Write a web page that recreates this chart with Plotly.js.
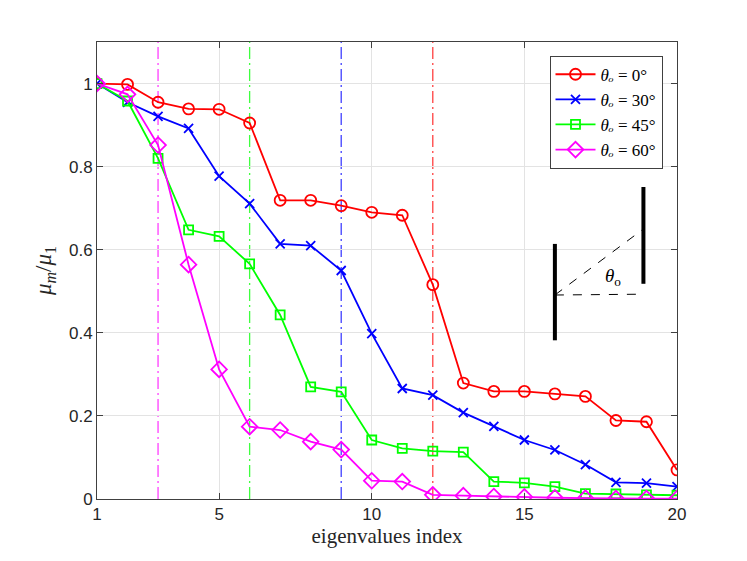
<!DOCTYPE html>
<html>
<head>
<meta charset="utf-8">
<script src="https://cdn.plot.ly/plotly-3.0.1.min.js"></script>
<style>
  html, body { margin: 0; padding: 0; background: #fff; }
  #chart { width: 747px; height: 561px; }
</style>
</head>
<body>
<div id="chart"></div>
<script>
(function () {
  "use strict";

  // eigenvalue index 1..20
  const idx = [1, 2, 3, 4, 5, 6, 7, 8, 9, 10, 11, 12, 13, 14, 15, 16, 17, 18, 19, 20];

  // normalised eigenvalues mu_m / mu_1
  const theta0  = [1.000, 0.998, 0.955, 0.939, 0.938, 0.905, 0.719, 0.719, 0.706, 0.690,
                   0.683, 0.516, 0.279, 0.259, 0.259, 0.253, 0.247, 0.189, 0.186, 0.070];
  const theta30 = [1.000, 0.955, 0.921, 0.892, 0.777, 0.711, 0.614, 0.610, 0.550, 0.398,
                   0.266, 0.250, 0.208, 0.175, 0.142, 0.118, 0.083, 0.040, 0.038, 0.030];
  const theta45 = [1.000, 0.958, 0.820, 0.648, 0.632, 0.566, 0.443, 0.270, 0.258, 0.142,
                   0.122, 0.115, 0.113, 0.042, 0.039, 0.030, 0.013, 0.012, 0.010, 0.009];
  const theta60 = [1.000, 0.974, 0.852, 0.564, 0.312, 0.174, 0.166, 0.138, 0.119, 0.044,
                   0.042, 0.010, 0.008, 0.006, 0.005, 0.003, 0.002, 0.001, 0.001, 0.001];

  // cut-off index for each angle (dash-dot markers)
  const cutoffs = [12, 9, 6, 3];
  const labels = ["0°", "30°", "45°", "60°"];

  const xTicks = [1, 5, 10, 15, 20];
  const yTicks = [0, 0.2, 0.4, 0.6, 0.8, 1];

  const COL = ["#ff0000", "#0000ff", "#00ff00", "#ff00ff"];
  const SYM = ["circle-open", "x-thin-open", "square-open", "diamond-open"];
  const SIZE = [11, 9, 9, 12];
  const series = [theta0, theta30, theta45, theta60];

  const SERIF = "'Liberation Serif', 'DejaVu Serif', serif";
  const SANS = "'Liberation Sans', Arial, sans-serif";

  const traces = series.map((ys, i) => ({
    type: "scatter", mode: "lines+markers",
    x: idx, y: ys,
    name: "<i>θₒ</i> = " + labels[i],
    line: { color: COL[i], width: 1.8 },
    marker: { symbol: SYM[i], size: SIZE[i], color: COL[i], line: { color: COL[i], width: 1.8 } },
  }));

  // vertical dash-dot lines at each cut-off
  const cutShapes = cutoffs.map((c, i) => ({
    type: "line", layer: "below",
    xref: "x", yref: "paper", x0: c, x1: c, y0: 0, y1: 1,
    line: { color: COL[i], width: 1.3, dash: "12px,4px,2px,4px" }, opacity: 0.75,
  }));

  // little geometry sketch (two plates and the angle)
  const sketch = [
    { type: "line", xref: "x", yref: "y", x0: 16, x1: 16, y0: 0.382, y1: 0.614,
      line: { color: "#000", width: 4 } },
    { type: "line", xref: "x", yref: "y", x0: 18.9, x1: 18.9, y0: 0.518, y1: 0.751,
      line: { color: "#000", width: 4 } },
    { type: "line", xref: "x", yref: "y", x0: 16, x1: 18.9, y0: 0.491, y1: 0.650,
      line: { color: "#000", width: 1, dash: "dash" } },
    { type: "line", xref: "x", yref: "y", x0: 16, x1: 18.9, y0: 0.491, y1: 0.493,
      line: { color: "#000", width: 1, dash: "dash" } },
  ];

  const axisBase = {
    showline: true, linecolor: "#404040", linewidth: 1, mirror: "ticks",
    ticks: "inside", ticklen: 6, tickcolor: "#404040",
    showgrid: true, gridcolor: "#e3e3e3", gridwidth: 1,
    zeroline: false,
    tickfont: { family: SANS, size: 17, color: "#262626" },
  };

  const layout = {
    width: 747, height: 561,
    paper_bgcolor: "#fff", plot_bgcolor: "#fff",
    margin: { l: 97, r: 70, t: 42, b: 62 },
    showlegend: true,
    legend: {
      x: 0.975, y: 0.97, xanchor: "right", yanchor: "top",
      bgcolor: "#fff", bordercolor: "#404040", borderwidth: 1,
      font: { family: SERIF, size: 17, color: "#000" },
      itemwidth: 40, tracegroupgap: 0,
    },
    xaxis: {
      ...axisBase,
      range: [1, 20], tickvals: xTicks, ticktext: xTicks.map(String),
      title: { text: "eigenvalues index", font: { family: SERIF, size: 21, color: "#262626" }, standoff: 4 },
    },
    yaxis: {
      ...axisBase,
      range: [0, 1.1], tickvals: yTicks, ticktext: yTicks.map(String),
      title: { text: "<i>μ<sub>m</sub></i>/<i>μ</i><sub>1</sub>", font: { family: SERIF, size: 23, color: "#262626" }, standoff: 10 },
    },
    shapes: cutShapes.concat(sketch),
    annotations: [{
      xref: "x", yref: "y", x: 17.9, y: 0.535, showarrow: false,
      text: "<i>θ</i><sub>o</sub>",
      font: { family: SERIF, size: 19, color: "#000" },
    }],
  };

  Plotly.newPlot("chart", traces, layout, { staticPlot: true, displayModeBar: false });
})();
</script>
</body>
</html>
